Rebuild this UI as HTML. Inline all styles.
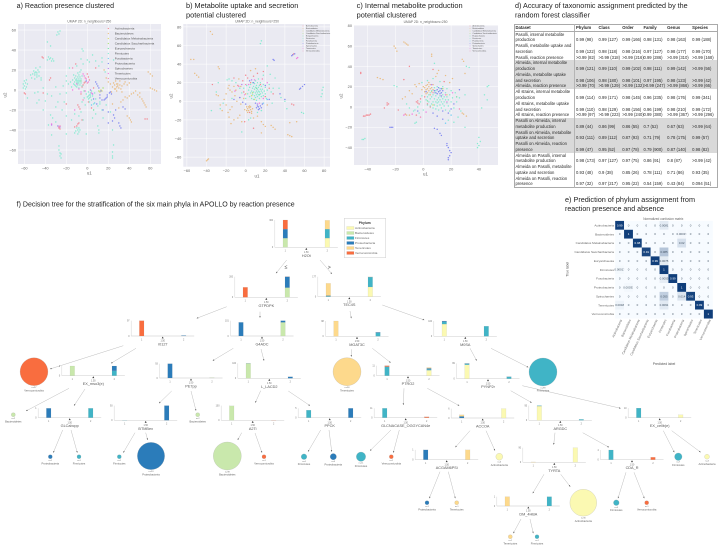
<!DOCTYPE html>
<html lang="en">
<head>
<meta charset="utf-8">
<title>Phylum classification figure</title>
<style>
html,body{margin:0;padding:0;background:#fff;}
body{position:relative;width:720px;height:547px;overflow:hidden;font-family:"Liberation Sans",sans-serif;}
#figure{position:absolute;left:0;top:0;}
#figure text{font-family:"Liberation Sans",sans-serif;}
.title{font-size:7px;fill:#222;}
#accuracy-table{position:absolute;left:513.5px;top:23.8px;width:203.2px;border-collapse:collapse;table-layout:fixed;font-size:4.2px;line-height:5.76px;color:#2a2a2a;border:0.5px solid #aaa;}
#accuracy-table th{font-weight:bold;text-align:left;padding:0 0 0 1px;border-bottom:0.5px solid #aaa;white-space:nowrap;height:5.76px;}
#accuracy-table td{padding:0 0 0 1px;vertical-align:bottom;white-space:nowrap;}
#accuracy-table tr>*:first-child{border-right:0.5px solid #b5b5b5;}
#accuracy-table tr.shade td{background:#d9d9d9;}
</style>
</head>
<body>
<svg id="figure" width="720" height="547" viewBox="0 0 720 547" xmlns="http://www.w3.org/2000/svg">
  <text class="title" x="16.7" y="8" textLength="97.3" lengthAdjust="spacingAndGlyphs">a) Reaction presence clustered</text>
  <text class="title" x="186" y="8" textLength="112.3" lengthAdjust="spacingAndGlyphs">b) Metabolite uptake and secretion</text>
  <text class="title" x="186" y="17.5" textLength="60" lengthAdjust="spacingAndGlyphs">potential clustered</text>
  <text class="title" x="356.7" y="8" textLength="106" lengthAdjust="spacingAndGlyphs">c) Internal metabolite production</text>
  <text class="title" x="356.7" y="17.5" textLength="60" lengthAdjust="spacingAndGlyphs">potential clustered</text>
  <text class="title" x="515" y="8" textLength="172.7" lengthAdjust="spacingAndGlyphs">d) Accuracy of taxonomic assignment predicted by the</text>
  <text class="title" x="515" y="17.5" textLength="75" lengthAdjust="spacingAndGlyphs">random forest classifier</text>
  <text class="title" x="565" y="201.8" textLength="130" lengthAdjust="spacingAndGlyphs">e) Prediction of phylum assignment from</text>
  <text class="title" x="565" y="211.2" textLength="99" lengthAdjust="spacingAndGlyphs">reaction presence and absence</text>
  <text class="title" x="16.7" y="206.5" textLength="278" lengthAdjust="spacingAndGlyphs">f) Decision tree for the stratification of the six main phyla in APOLLO by reaction presence</text>
</svg>

<table id="accuracy-table">
<colgroup><col style="width:60.5px"><col style="width:23px"><col style="width:23.7px"><col style="width:21.3px"><col style="width:23.7px"><col style="width:25px"><col style="width:26px"></colgroup>
<tr><th>Dataset</th><th>Phylum</th><th>Class</th><th>Order</th><th>Family</th><th>Genus</th><th>Species</th></tr>
<tr><td>Pasolli, internal metabolite<br>production</td><td>0.99 (98)</td><td>0.99 (127)</td><td>0.99 (166)</td><td>0.98 (131)</td><td>0.98 (163)</td><td>0.99 (188)</td></tr>
<tr><td>Pasolli, metabolite uptake and<br>secretion</td><td>0.99 (122)</td><td>0.98 (118)</td><td>0.98 (216)</td><td>0.97 (127)</td><td>0.98 (177)</td><td>0.99 (170)</td></tr>
<tr><td>Pasolli, reaction presence</td><td>&gt;0.99 (82)</td><td>&gt;0.99 (318)</td><td>&gt;0.99 (216)</td><td>0.99 (286)</td><td>&gt;0.99 (310)</td><td>&gt;0.99 (168)</td></tr>
<tr class="shade"><td>Almeida, internal metabolite<br>production</td><td>0.99 (121)</td><td>0.99 (110)</td><td>0.99 (102)</td><td>0.98 (111)</td><td>0.99 (142)</td><td>&gt;0.99 (56)</td></tr>
<tr class="shade"><td>Almeida, metabolite uptake<br>and secretion</td><td>0.98 (106)</td><td>0.98 (180)</td><td>0.98 (101)</td><td>0.97 (195)</td><td>0.98 (123)</td><td>&gt;0.99 (42)</td></tr>
<tr class="shade"><td>Almeida, reaction presence</td><td>&gt;0.99 (70)</td><td>&gt;0.99 (129)</td><td>&gt;0.99 (132)</td><td>&gt;0.99 (247)</td><td>&gt;0.99 (866)</td><td>&gt;0.99 (66)</td></tr>
<tr><td>All strains, internal metabolite<br>production</td><td>0.99 (114)</td><td>0.99 (171)</td><td>0.98 (145)</td><td>0.96 (235)</td><td>0.98 (176)</td><td>0.99 (341)</td></tr>
<tr><td>All strains, metabolite uptake<br>and secretion</td><td>0.99 (110)</td><td>0.98 (129)</td><td>0.98 (156)</td><td>0.96 (199)</td><td>0.98 (210)</td><td>0.99 (172)</td></tr>
<tr><td>All strains, reaction presence</td><td>&gt;0.99 (97)</td><td>&gt;0.99 (223)</td><td>&gt;0.99 (240)</td><td>0.99 (380)</td><td>&gt;0.99 (367)</td><td>&gt;0.99 (296)</td></tr>
<tr class="shade"><td>Pasolli on Almeida, internal<br>metabolite production</td><td>0.89 (44)</td><td>0.86 (99)</td><td>0.86 (55)</td><td>0.7 (52)</td><td>0.67 (63)</td><td>&gt;0.99 (64)</td></tr>
<tr class="shade"><td>Pasolli on Almeida, metabolite<br>uptake and secretion</td><td>0.93 (111)</td><td>0.89 (112)</td><td>0.87 (93)</td><td>0.71 (79)</td><td>0.78 (175)</td><td>0.99 (57)</td></tr>
<tr class="shade"><td>Pasolli on Almeida, reaction<br>presence</td><td>0.99 (47)</td><td>0.95 (52)</td><td>0.97 (78)</td><td>0.79 (900)</td><td>0.87 (140)</td><td>0.98 (82)</td></tr>
<tr><td>Almeida on Pasolli, internal<br>metabolite production</td><td>0.98 (173)</td><td>0.97 (127)</td><td>0.97 (75)</td><td>0.86 (91)</td><td>0.8 (87)</td><td>&gt;0.99 (42)</td></tr>
<tr><td>Almeida on Pasolli, metabolite<br>uptake and secretion</td><td>0.93 (48)</td><td>0.9 (38)</td><td>0.85 (26)</td><td>0.78 (111)</td><td>0.71 (86)</td><td>0.93 (35)</td></tr>
<tr><td>Almeida on Pasolli, reaction<br>presence</td><td>0.97 (32)</td><td>0.97 (217)</td><td>0.95 (22)</td><td>0.54 (159)</td><td>0.43 (84)</td><td>0.094 (51)</td></tr>
</table>

<script>
/* ---------- UMAP data: flat [u1,u2,u1,u2,...] arrays ---------- */
const phylumNames = ["Actinobacteria","Bacteroidetes","Candidatus Melainabacteria","Candidatus Saccharibacteria","Euryarchaeota","Firmicutes","Fusobacteria","Proteobacteria","Spirochaetes","Tenericutes","Verrucomicrobia"];

const aActino = [-43,33,-42,32,1,13,2,10,0,16,-4,5,-3,7,-5,3,-2,8,-8,-17,-7,-19,-9,-15,-12,-37,-10,-36,-9,-34,-8,-33,-5,-30,55,-29,57,-29,-27,-38,-26,-39,-36,10,-35,12,-42,-3,-60,-3,-59,-4,1,-12,6,2,8,22,-11,26,-20,-14,-6,-4,4,-18];
const aBacter = [20,8,22,6,24,3,25,7,26,1,26,5,27,9,28,3,28,-1,29,6,30,2,31,5,31,9,32,1,33,4,33,-2,35,6,36,8,38,5,40,7,23,-2,18,12,16,20,42,-4,44,-3,40,-6,38,-8,36,-7,34,-10,32,-12,46,-1,48,-5,50,-7,52,-9,53,-11,54,-13,55,-15,56,-17,50,-3,60,2,62,1,64,0,66,-1,38,-26,40,-28,41,-30,42,-32,30,-18,24,-14,58,18,60,16,62,14,28,6,29,4,27,1];
const aMel = [14,-1,13,0,12,-2];
const aSacc = [11,-1,15,2];
const aEury = [-6,9,-3,-1,6,-20];
const aFirm = [-14,10,-13,6,-12,12,-12,8,-11,4,-11,10,-11,14,-10,7,-10,11,-10,3,-9,9,-9,13,-9,5,-9,17,-8,7,-8,11,-8,15,-8,2,-7,9,-7,13,-7,5,-7,18,-6,11,-6,7,-6,20,-5,14,-5,4,-16,8,-18,6,-20,9,-15,3,-13,15,-12,5,-10,9,-9,7,-8,9,-1,-4,0,-7,1,-2,1,-9,2,-5,2,-12,3,-3,3,-7,4,-10,4,-1,5,-6,6,-14,7,-3,8,-9,10,-16,12,-14,14,-20,-3,-8,-5,-12,-2,-15,2,-8,1,-6,3,-5,-53,12,-52,16,-51,19,-50,11,-50,15,-49,18,-49,22,-48,13,-48,17,-47,20,-46,14,-46,18,-45,23,-54,15,-44,12,-50,17,-48,15,-61,2,-61,6,-60,9,-60,4,-59,1,-59,7,-58,3,-58,10,-57,6,-38,30,-36,31,-35,32,-33,31,-32,29,-37,33,-34,29,-28,58,-27,56,-26,59,-29,55,-11,-41,-10,-38,-9,-40,-9,-44,-8,-38,-8,-42,-7,-40,-12,-43,-20,-44,-1,-44,-27,-56,-27,-60,-26,-63,-26,-66,-25,-64,-25,-68,24,-62,24,-66,24,-68,25,-55,10,-36,11,-40,11,-43,24,-40,-35,-25,-33,-28,-30,-32,-28,-36,-24,-20,-22,-12,-26,-4,-30,3,-34,-6,-40,-11,-46,-10,-47,-2,-42,2,-38,-4,-48,-13,-30,-17,-28,-12,-20,-3,-23,4,-20,14,-17,22,-10,24,-6,31,-5,41,-4,39,0,30,2,28,5,35,8,29,11,24,14,32,14,28,17,18,-4,26,-20,-26,-15,-30,-12,-24,-8,-26,-4,-30,-6,-22,5,-28,8,-24,15,-28,-37,-35,-34,-45,-42,-20,-44,10,-57,-8,-50,-3,-38,48,-35,44,18,-15,12,-12,22,-22,25,30];
const aFuso = [4,-15,7,-13];
const aProteo = [17,-9,16,-10,18,-8,19,-7,21,-3,22,-2,23,-4,8,8,9,6,10,4,13,-1,12,-5,6,-9,9,-14,12,-8,25,-25,26,-28,24,-31,20,-33,30,-33,31,-36,32,-38,15,-20,20,-22,27,-20,34,-17,36,-19,-1,9,11,2,14,-10,19,-5];
const aSpiro = [3,0,5,-4,-28,-36,-34,-35,-26,-37];
const aTener = [-1,11,-4,16,-34,-34,-8,1,-6,-2,-12,-20,1,8,-14,0,-3,14,-10,6,-2,-1,4,-3];
const aVerru = [-2,12,-27,-37,-26,-36,-14,22,0,7,-4,-10];
const panelASeries = [aActino,aBacter,aMel,aSacc,aEury,aFirm,aFuso,aProteo,aSpiro,aTener,aVerru];

const bActino = [2,25,5,20,-3,22,8,27,-8,17,12,30,18,32,15,18,-2,10,-6,4,20,5,4,-12,47,-3,49,-4,8,-29,-1,-22,24,14,28,8,-12,25,48,50,49,51,-34,18,0,28];
const bBacter = [1,-6,2,-8,3,-10,4,-7,5,-9,6,-11,3,-6,5,-6,1,-10,7,-8,-1,-9,4,-5,2,-12,6,-13,-36,75,-34,72,-56,45,-53,45,-52,30,-50,28,-48,26,-28,37,-27,35,-38,-62,-39,-63,-40,-64,-18,14,-16,12,-14,10,-20,8,-17,17,-12,16,-10,12,-22,2,-16,-9,-14,-6,-18,-12,-20,-4,-24,-10,-26,-4,-28,6,-30,7,-17,-17,-12,-20,-15,-24,-8,-18,-6,-15,-4,-22,43,-36,45,-37,47,-38,28,-28,30,-30,26,-26,16,-22,18,-25,20,-27,16,-34,45,-23,52,-22,-2,3,0,8,-9,0,-11,6,-5,16,-7,24,5,33,10,35,-5,-3,8,-18,12,-16,22,-4];
const bMel = [6,6,9,2];
const bSacc = [7,9];
const bEury = [11,14,14,7];
const bFirm = [2,8,3,12,4,5,4,15,5,9,5,18,6,11,6,3,7,7,7,14,7,20,8,10,8,16,8,2,9,6,9,13,9,19,10,9,10,4,10,15,10,22,11,11,11,7,11,17,11,1,12,13,12,9,12,5,12,20,13,11,13,15,13,7,13,24,14,10,14,17,14,3,15,13,15,8,15,20,16,11,16,5,16,16,17,9,17,13,18,6,18,18,19,11,20,15,20,8,21,3,22,12,24,18,26,10,28,14,-2,14,-4,9,0,3,1,17,-6,14,-10,20,-19,23,-17,24,-14,22,15,62,16,65,78,12,78,8,77,5,79,15,-4,-33,57,-12,59,-13,-26,-8,-23,-2,-14,3,5,-18,3,-20,16,-10,27,-2,36,4,34,14,40,0,30,25,18,28,25,29,22,38,-30,10,-28,20,42,-8,-35,-10,12,-12];
const bFuso = [18,-2,22,2];
const bProteo = [11,-7,12,-5,13,-6,14,-8,15,-5,16,-7,13,-9,17,-3,-6,4,-3,-1,0,-3,20,17,8,20,24,2,28,45,29,44,48,50,47,49,50,51,55,13,56,14,58,16,60,18,10,-2,4,22,35,8,40,2,-12,2];
const bSpiro = [6,23,-4,18,12,-3];
const bTener = [9,23,-1,7,52,46,53,47,3,18,14,-2,-11,11,18,3,22,20];
const bVerru = [-7,16,0,18,17,24];
const panelBSeries = [bActino,bBacter,bMel,bSacc,bEury,bFirm,bFuso,bProteo,bSpiro,bTener,bVerru];

const cActino = [-43,-9,-42,-9,-41,-8,-40,-8,-39,-8,-38,-7,-45,33,-45,34,-26,4,-26,2,-25,3,-5,5,-4,6,-4,4,-3,3,-10,40,-2,8,1,10,3,3,5,0,15,25,-14,27,7,37,-18,-3,-13,-7,-28,-1,-5,-8];
const cBacter = [-13,63,-12,62,-11,61,-14,64,-21,60,-20,58,-19,55,-33,29,-31,28,-29,27,6,50,6,52,28,47,29,45,-1,17,0,20,1,15,1,19,2,13,2,17,2,21,3,14,3,18,3,22,4,16,4,20,4,24,5,12,5,18,5,22,6,15,6,19,7,17,7,22,-5,20,-6,22,-3,23,-8,13,-10,16,-13,10,-15,8,9,30,10,33,11,36,16,31,19,24,21,28,30,33,28,-6,29,-7,31,-9,-12,-8,-10,-8];
const cMel = [7,2,17,12];
const cSacc = [14,18];
const cEury = [3,6,24,10];
const cFirm = [2,7,3,2,3,10,4,5,4,12,5,1,5,8,5,14,6,3,6,10,6,16,7,5,7,12,7,-1,8,8,8,2,8,14,8,19,9,5,9,11,9,-2,9,16,10,7,10,1,10,13,10,4,10,20,11,9,11,5,11,-3,11,15,12,2,12,7,12,11,12,18,13,5,13,10,13,-1,13,14,14,3,14,8,14,12,14,20,15,5,15,10,15,1,16,7,16,14,16,-3,17,4,17,10,17,18,18,1,18,7,19,12,19,-4,20,5,20,16,21,9,22,-1,23,14,24,5,26,9,27,-4,30,12,-2,5,-1,11,0,-3,-3,-6,-4,0,-6,-3,-7,-4,-5,-15,-6,-16,-44,-32,-43,-32,-42,-31,31,40,33,39,8,43,46,20,47,21,44,12,46,7,42,-1,39,-36,39,-40,40,-38,41,-34,40,-30,-19,20,-21,21,22,-15,25,-10,18,-13,30,-20,-1,24,3,26,7,28,12,25,-10,-1,-12,3];
const cFuso = [20,-8,16,-16];
const cProteo = [8,16,9,14,10,17,10,13,11,15,11,19,12,16,12,13,13,18,13,14,14,16,-24,-20,-23,-20,-22,-20,8,-21,10,-22,12,-26,13,-28,17,-36,17,-38,18,-40,19,-43,20,-45,19,-48,18,-50,18,-52,7,-6,10,-9,14,-4,20,-2,2,15,-4,-4,22,3,26,17,14,-12,18,-6];
const cSpiro = [13,11,6,22];
const cTener = [16,12,-8,-7,-14,-8,17,5,2,-5,21,14];
const cVerru = [7,14,-2,-10,26,-2];
const panelCSeries = [cActino,cBacter,cMel,cSacc,cEury,cFirm,cFuso,cProteo,cSpiro,cTener,cVerru];

const xTicksA = [-60,-40,-20,0,20,40,60];
const yTicksA = [60,40,20,0,-20,-40,-60];
const xTicksB = [-60,-40,-20,0,20,40,60,80];
const yTicksB = [80,60,40,20,0,-20,-40,-60];
const xTicksC = [-40,-20,0,20,40];
const yTicksC = [80,60,40,20,0,-20,-40];

/* ---------- Confusion-matrix data ---------- */
const cmLabels = ["Actinobacteria","Bacteroidetes","Candidatus Melainabacteria","Candidatus Saccharibacteria","Euryarchaeota","Firmicutes","Fusobacteria","Proteobacteria","Spirochaetes","Tenericutes","Verrucomicrobia"];
const cmRow0 = ["0.99","0","0","0","0","0.0081","0","0","0","0","0"];
const cmRow1 = ["0","1","0","0","0","0","0","0.00037","0","0","0"];
const cmRow2 = ["0","0","0.98","0","0","0","0","0.02","0","0","0"];
const cmRow3 = ["0","0","0","0.91","0","0.085","0","0","0","0","0"];
const cmRow4 = ["0","0","0","0","0.99","0.0075","0","0","0","0","0"];
const cmRow5 = ["0.00017","0","0","0","0","1","0","0","0","0","0"];
const cmRow6 = ["0","0","0","0","0","0.0055","0.99","0","0","0","0"];
const cmRow7 = ["0","0.00031","0","0","0","0","0","1","0","0","0"];
const cmRow8 = ["0","0","0","0","0","0.055","0","0.014","0.93","0","0"];
const cmRow9 = ["0.0018","0","0","0","0","0.0091","0","0","0","0.99","0"];
const cmRow10 = ["0","0","0","0","0","0","0","0","0","0","1"];
const cmRows = [cmRow0,cmRow1,cmRow2,cmRow3,cmRow4,cmRow5,cmRow6,cmRow7,cmRow8,cmRow9,cmRow10];

/* ---------- Decision-tree data: class counts ordered as treeClasses ---------- */
const treeClasses = ["Actinobacteria","Bacteroidetes","Firmicutes","Proteobacteria","Tenericutes","Verrucomicrobia"];
const treeFeatures = ["H2Ot","GTPDPK","TEC4S","r0127","G4ADC","MGAT3C","M0SA","EX_mso3(e)","PE7pp","L_LACD2","PTRO2","PYNP2r","GLCabcpp","BTMBex","A2Ti","PPCK","GLCNACASE_OGGYCAN4e","ACCOA","ARGDC","EX_cellb(e)","ACGAM6PSi","TYRTA","CDA_R","DM_4HBA"];
const treeYMax = [300,200,177,97,101,98,100,2,93,100,11,99,1,93,100,5,11,6,95,10,1,90,4,1];
const treeLeftCounts = [[0,100,0,100,0,100],[0,0,0,0,0,97],[0,0,6,4,108,0],[0,0,0,0,0,97],[0,0,0,90,0,0],[0,0,0,0,98,0],[80,0,15,5,0,0],[0,2,0,0,0,0],[0,0,0,93,0,0],[1,98,0,1,0,0],[0,0,10,0,0,1],[90,0,7,2,0,0],[0,0,0,1,0,0],[0,0,1,0,0,0],[0,98,0,0,0,0],[0,0,4,0,0,0],[0,0,11,0,0,0],[0,0,0,1,1,0],[92,0,3,0,0,0],[0,0,10,0,0,0],[0,0,0,1,0,0],[0,0,0,0,2,0],[0,0,4,0,0,0],[0,0,0,0,1,0]];
const treeRightCounts = [[101,1,98,0,96,0],[0,94,0,106,0,1],[86,0,88,0,1,0],[0,0,0,3,0,0],[0,90,0,11,0,0],[0,0,22,4,0,0],[0,0,66,0,0,0],[0,0,1,1,0,0],[0,2,0,0,0,0],[0,0,0,10,0,0],[6,0,1,1,1,0],[0,0,12,1,0,0],[0,0,1,0,0,0],[0,0,0,93,0,0],[0,0,0,0,0,1],[0,0,0,5,0,0],[0,0,0,0,0,1],[6,0,0,0,0,0],[0,0,6,0,0,0],[3,0,0,0,0,0],[0,0,0,0,1,0],[90,0,0,0,0,0],[0,0,0,0,0,1],[0,0,1,0,0,0]];
const leafClass = [5,4,2,1,1,3,2,2,3,1,5,2,3,2,5,0,2,0,3,4,0,2,5,4,2];
const leafCounts = [97,98,98,2,2,1,1,1,93,98,1,4,5,11,1,6,7,3,1,1,90,4,1,1,1];

/* ---------- Layout and styling (not data) ---------- */
const phylumColors = ["#f3838c","#e9bb7c","#d8dc6a","#a6e26a","#6fe6a0","#7feccf","#6ccdf2","#7c84f0","#b57af0","#f278e0","#f585b4"];
const treeColors = ["#fbf9b2","#c9e8ac","#40b4c6","#2b7cba","#fdd98c","#f96d3f"];
const treeNodeLayout = [[285.3,247.3,27.3],[245.3,297.3,20.6],[328.3,296.7,20],[141.7,336,15.3],[241,336,15.3],[336,336.3,15.3],[444.3,336.3,15.3],[72.3,375.7,9.7],[170,378,14.3],[248.3,378.3,15],[387,375.7,10],[467,378.7,15.3],[48.7,417.7,9.4],[124.7,420.3,14.7],[231.7,420.3,14.7],[308.7,417.7,9.4],[384.7,417.7,9.4],[461.7,418,9.4],[539.3,420.3,14.7],[638.7,417.7,9.6],[425.7,459.7,9.8],[533.3,462.3,14.6],[611,459.7,9.7],[507.3,506,9.3]];
const leafLayout = [[34,371.7],[347,371.7],[543,372],[13.3,414.7],[197.7,414.7],[50.3,456.7],[79,456.7],[119.3,456.7],[151,456],[227.3,456],[264,456.7],[304,456.7],[333.3,456.7],[361,456.7],[391.3,456.7],[499.3,456.7],[678.3,456.7],[707,456.7],[427,502.7],[456.7,502.7],[583.3,502.7],[616.3,502.7],[646.7,502.7],[510.3,536.7],[537,536.7]];
const edgeLayout = [[286.7,260,276,273.3],[320,260,332,274],[226.7,306.7,196.7,318.3],[260,311.7,260,317.7],[350,311,351.3,318.3],[382.3,305,424.3,320],[123.3,345.7,50,369],[136,348.3,111,363.3],[233.3,348.3,212.7,360.7],[261,349,264,360.7],[351.3,349.3,351.3,356.7],[372.3,348.3,390.7,362.7],[470,348.3,476.7,360.7],[491,348.3,528.3,367.3],[69,388.3,26,411],[85,389,74,405.7],[171.7,391,159,403.3],[191,391,196,410.7],[260.7,390.7,255.3,402.7],[288.3,391,310,405.7],[404,388.3,403.3,405],[427.3,388.3,459.3,405.7],[510.7,390.7,531.7,402.7],[522.3,385.7,620.7,408.3],[62.7,430,53.3,452.7],[71,430,77.3,452.7],[135,432.7,123.3,452.7],[145.7,432.7,147.7,440],[241.7,432.7,237.7,440],[255,433,262,452.7],[320.7,430,308,451.7],[329,430,331.7,451.7],[391,430,370,450.7],[399.3,430,393.3,452.7],[470,430.7,455.3,447.3],[486,430.7,495,450.7],[440,471.7,429.3,498.3],[448.3,471.7,455.3,498.3],[555,432.7,553.7,444.7],[582.7,432.7,609,447.3],[544,474.3,532.7,493.3],[560.7,474.3,570.3,486.7],[626,472.3,618,498.3],[634,472.3,644.3,498.3],[663.3,430.7,674.3,452.3],[671.7,430.7,700.7,452.3],[521,519,513.3,533.3],[530,519,533.3,533.3]];

const NS = "http://www.w3.org/2000/svg";
const fig = document.getElementById("figure");
function svgEl(tag, parent, attrs){
  const el = document.createElementNS(NS, tag);
  for (const k in attrs) el.setAttribute(k, attrs[k]);
  parent.appendChild(el);
  return el;
}
function svgText(parent, str, x, y, size, fill, anchor){
  const el = svgEl("text", parent, {x:x, y:y+size*0.35, "font-size":size, fill:fill, "text-anchor":anchor||"middle"});
  el.textContent = str;
  return el;
}

/* ---------- UMAP panels ---------- */
function drawUmap(opts){
  const g = svgEl("g", fig, {});
  
  
  const xs = v => opts.x0 + v*opts.kx;
  const ys = v => opts.y0 - v*opts.ky;
  const bg = svgEl("rect", g, {x:opts.left, y:opts.top, width:opts.right-opts.left, height:opts.bottom-opts.top, fill:"#eaeaf2"});
  
  
  opts.xTicks.forEach(t => {
    const line = svgEl("line", g, {x1:xs(t), x2:xs(t), y1:opts.top, y2:opts.bottom, stroke:"#fff", "stroke-width":0.5});
    
    
    const lab = svgText(g, String(t).replace("-", "\u2212"), xs(t), opts.bottom+4, 3.9, "#666");
    
    
  });
  opts.yTicks.forEach(t => {
    const line = svgEl("line", g, {y1:ys(t), y2:ys(t), x1:opts.left, x2:opts.right, stroke:"#fff", "stroke-width":0.5});
    
    
    const lab = svgText(g, String(t).replace("-", "\u2212"), opts.left-2, ys(t), 3.9, "#666", "end");
    
    
  });
  opts.series.forEach((flat, s) => {
    for (let i = 0; i + 1 < flat.length; i += 2) {
      const pt = svgEl("circle", g, {cx:xs(flat[i]), cy:ys(flat[i+1]), r:0.72, fill:phylumColors[s], opacity:0.95});
      
      
    }
  });
  const sub = svgText(g, "UMAP 2D: n_neighbours=250", opts.subX, opts.subY, 3.3, "#666");
  
  
  const xl = svgText(g, "u1", opts.u1X, opts.u1Y, 4.4, "#666");
  
  
  const yl = svgText(g, "u2", 0, 0, 4.4, "#666");
  yl.setAttribute("transform", "translate("+opts.u2X+","+opts.u2Y+") rotate(-90)");
  
  
  phylumNames.forEach((name, i) => {
    const y = opts.legY + i*opts.legStep;
    const mark = svgEl("circle", g, {cx:opts.legMarkX, cy:y, r:opts.legR, fill:phylumColors[i]});
    
    
    const t = svgText(g, name, opts.legTextX, y, opts.legFont, "#555", "start");
    
    
  });
}
drawUmap({left:18,right:161,top:24,bottom:164,x0:87.3,kx:1.05,y0:90,ky:1,xTicks:xTicksA,yTicks:yTicksA,series:panelASeries,subX:89.3,subY:21.3,u1X:89.3,u1Y:173,u2X:5,u2Y:95,legY:28.5,legStep:5,legMarkX:108.3,legTextX:114.7,legFont:3.1,legR:0.6});
drawUmap({left:183.3,right:330,top:24,bottom:166.7,x0:245.7,kx:0.98,y0:101.3,ky:0.93,xTicks:xTicksB,yTicks:yTicksB,series:panelBSeries,subX:257,subY:21.3,u1X:257,u1Y:176,u2X:171,u2Y:96,legY:26,legStep:2.5,legMarkX:303,legTextX:306,legFont:1.9,legR:0.4});
drawUmap({left:354,right:498,top:25,bottom:165,x0:423.3,kx:1.39,y0:107,ky:1.015,xTicks:xTicksC,yTicks:yTicksC,series:panelCSeries,subX:425.5,subY:22,u1X:425.5,u1Y:174,u2X:341,u2Y:96,legY:26,legStep:2.5,legMarkX:470,legTextX:472.5,legFont:1.9,legR:0.4});

/* ---------- Confusion matrix ---------- */
(function(){
  const g = svgEl("g", fig, {});
  
  
  const left = 615.2, top = 220.9, cell = 8.87;
  const xp = i => left + i*cell;
  const yp = i => top + i*cell;
  const shade = v => {
    const t = Math.sqrt(Math.min(1, v));
    const c0 = [247,251,255], c1 = [16,62,122];
    const m = c0.map((c,k) => Math.round(c + (c1[k]-c)*t));
    return "rgb("+m.join(",")+")";
  };
  cmRows.forEach((row, r) => {
    row.forEach((str, c) => {
      const v = parseFloat(str);
      const rect = svgEl("rect", g, {x:xp(c), y:yp(r), width:cell+0.05, height:cell+0.05, fill:shade(v)});
      
      
      const t = svgText(g, str, xp(c)+cell/2, yp(r)+cell/2, 2.9, v > 0.5 ? "#fff" : "#456");
      
      
    });
  });
  cmLabels.forEach((name, i) => {
    const yl = svgText(g, name, left-1.2, yp(i)+cell/2, 3.1, "#666", "end");
    
    
    const xl = svgEl("text", g, {x:0, y:0, "font-size":3.1, fill:"#666", "text-anchor":"end", transform:"translate("+(xp(i)+cell/2+2.5)+",320) rotate(-65)"});
    xl.textContent = name;
    
    
  });
  const title = svgText(g, "Normalized confusion matrix", 663.3, 218.7, 3.2, "#666");
  
  
  const px = svgText(g, "Predicted label", 664, 363.7, 3.4, "#555");
  
  
  const py = svgText(g, "True label", 0, 0, 3.4, "#555");
  py.setAttribute("transform", "translate(567.3,269.3) rotate(-90)");
  
  
})();

/* ---------- Decision tree ---------- */
(function(){
  const g = svgEl("g", fig, {});
  
  

  edgeLayout.forEach(e => {
    const line = svgEl("line", g, {x1:e[0], y1:e[1], x2:e[2], y2:e[3], stroke:"#bdbdbd", "stroke-width":0.5});
    
    
    const ang = Math.atan2(e[3]-e[1], e[2]-e[0]);
    const a = 1.6, w = 0.7;
    const bx = e[2]-a*Math.cos(ang), by = e[3]-a*Math.sin(ang);
    const pts = [e[2]+","+e[3], (bx-w*Math.sin(ang))+","+(by+w*Math.cos(ang)), (bx+w*Math.sin(ang))+","+(by-w*Math.cos(ang))].join(" ");
    const head = svgEl("polygon", g, {points:pts, fill:"#555"});
    
    
  });

  function stack(node, counts, cx, baseline, h, ymax){
    const yScale = v => v/ymax*h;
    let acc = 0;
    counts.forEach((count, c) => {
      if (!count) return;
      const bh = yScale(count);
      const bar = svgEl("rect", node, {x:cx-2.3, y:baseline-yScale(acc)-bh, width:4.6, height:bh, fill:treeColors[c], stroke:"#999", "stroke-width":0.1});
      
      
      acc += count;
    });
  }

  treeFeatures.forEach((name, i) => {
    const layout = treeNodeLayout[i];
    const b1 = layout[0], base = layout[1], h = layout[2];
    const node = svgEl("g", g, {});
    
    
    const ax = svgEl("path", node, {d:"M"+(b1-10.5)+" "+(base-h)+"V"+base, stroke:"#ccc", "stroke-width":0.4, fill:"none"});
    
    
    const bl = svgEl("path", node, {d:"M"+(b1-10.5)+" "+base+"H"+(b1+52.5), stroke:"#d6d6d6", "stroke-width":0.7, fill:"none"});
    
    
    stack(node, treeLeftCounts[i], b1, base, h, treeYMax[i]);
    stack(node, treeRightCounts[i], b1+42, base, h, treeYMax[i]);
    const tri = svgEl("polygon", node, {points:(b1+21)+","+(base+0.6)+" "+(b1+20)+","+(base+2.4)+" "+(b1+22)+","+(base+2.4), fill:"#333"});
    
    
    const top = svgText(node, String(treeYMax[i]), b1-12.2, base-h, 2.3, "#777", "end");
    
    
    const zero = svgText(node, "0", b1-12.2, base, 2.3, "#777", "end");
    
    
    const t1 = svgText(node, "1", b1, base+3.6, 2.3, "#777");
    
    
    const t2 = svgText(node, "2", b1+42, base+3.6, 2.3, "#777");
    
    
    const thr = svgText(node, "1.50", b1+21, base+4.8, 2.3, "#666");
    
    
    const lab = svgText(node, name, b1+21, base+8.2, 3.8, "#555");
    
    
  });

  leafCounts.forEach((n, i) => {
    const pos = leafLayout[i];
    const c = leafClass[i];
    const r = Math.max(2, Math.sqrt(2*n));
    const leaf = svgEl("g", g, {});
    
    
    const circ = svgEl("circle", leaf, {cx:pos[0], cy:pos[1], r:r, fill:treeColors[c], stroke:"#999", "stroke-width":0.2});
    
    
    const nl = svgText(leaf, "n="+n, pos[0], pos[1]+r+1.5, 2.2, "#777");
    
    
    const cl = svgText(leaf, treeClasses[c], pos[0], pos[1]+r+4.7, 2.7, "#666");
    
    
  });

  const le = svgText(g, "\u2264", 286, 266.7, 5.2, "#444");
  
  
  const gt = svgText(g, ">", 329.3, 267, 5.2, "#444");
  
  

  const legendBox = svgEl("rect", g, {x:344.3, y:218.3, width:41.4, height:39.4, fill:"#fff", stroke:"#d5d5d5", "stroke-width":0.6});
  
  
  const lt = svgText(g, "Phylum", 364.7, 222.7, 3.3, "#333");
  lt.setAttribute("font-weight", "bold");
  
  
  treeClasses.forEach((name, i) => {
    const y = 228 + i*5;
    const sw = svgEl("rect", g, {x:346.7, y:y-1.5, width:7.3, height:3, fill:treeColors[i], stroke:"#aaa", "stroke-width":0.15});
    
    
    const t = svgText(g, name, 355, y, 3.1, "#666", "start");
    
    
  });
})();
</script>
</body>
</html>
